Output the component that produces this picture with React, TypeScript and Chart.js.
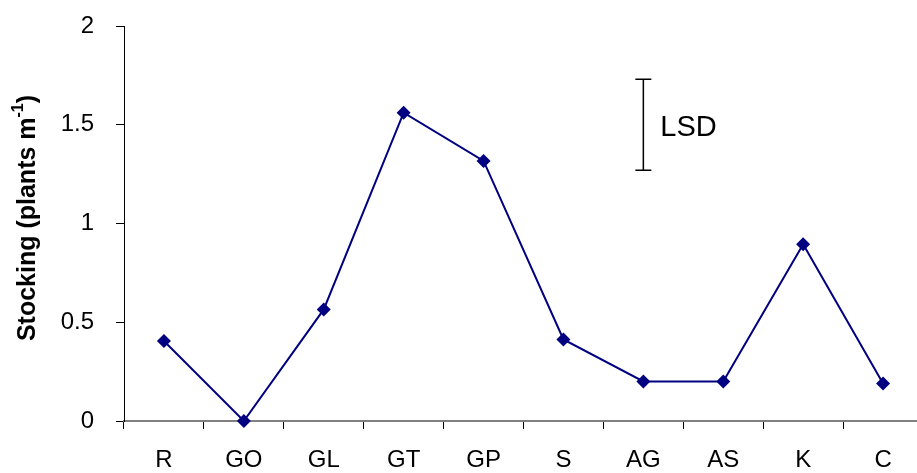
import React, { useEffect, useRef } from "react";
import { Chart, registerables } from "chart.js";

Chart.register(...registerables);

const categories = ["R", "GO", "GL", "GT", "GP", "S", "AG", "AS", "K", "C"];
const stocking = [0.405, 0.0, 0.565, 1.561, 1.317, 0.413, 0.2, 0.2, 0.895, 0.19];
const lsdCategory = "AG";
const lsdCenter = 1.5;
const lsdHalf = 0.231;
const yTicks = [0, 0.5, 1, 1.5, 2];

const FONT = "'Liberation Sans', Arial, sans-serif";

const overlayPlugin = {
  id: "overlay",
  afterDraw(chart: any) {
    const ctx = chart.ctx;
    const xs = chart.scales.x;
    const ys = chart.scales.y;
    const idx = categories.indexOf(lsdCategory);
    const x = xs.getPixelForValue(idx);
    const yTop = ys.getPixelForValue(lsdCenter + lsdHalf);
    const yBot = ys.getPixelForValue(lsdCenter - lsdHalf);
    const yMid = ys.getPixelForValue(lsdCenter);
    ctx.save();
    ctx.strokeStyle = "#000";
    ctx.lineWidth = 1.5;
    ctx.beginPath();
    ctx.moveTo(x, yTop);
    ctx.lineTo(x, yBot);
    ctx.moveTo(x - 8, yTop);
    ctx.lineTo(x + 8, yTop);
    ctx.moveTo(x - 8, yBot);
    ctx.lineTo(x + 8, yBot);
    ctx.stroke();
    ctx.fillStyle = "#000";
    ctx.font = `29px ${FONT}`;
    ctx.textAlign = "left";
    ctx.textBaseline = "middle";
    ctx.fillText("LSD", x + 17, yMid + 3);
    ctx.restore();

    ctx.save();
    ctx.translate(25, 218);
    ctx.rotate(-Math.PI / 2);
    ctx.fillStyle = "#000";
    const main = "Stocking (plants m";
    const sup = "-1";
    const end = ")";
    ctx.font = `bold 25px ${FONT}`;
    const wMain = ctx.measureText(main).width;
    const wEnd = ctx.measureText(end).width;
    ctx.font = `bold 16px ${FONT}`;
    const wSup = ctx.measureText(sup).width;
    const total = wMain + wSup + wEnd;
    let cx = -total / 2;
    ctx.textBaseline = "alphabetic";
    ctx.textAlign = "left";
    ctx.font = `bold 25px ${FONT}`;
    ctx.fillText(main, cx, 10);
    cx += wMain;
    ctx.font = `bold 16px ${FONT}`;
    ctx.fillText(sup, cx, -2);
    cx += wSup;
    ctx.font = `bold 25px ${FONT}`;
    ctx.fillText(end, cx, 10);
    ctx.restore();
  },
};

export default function App() {
  const ref = useRef<HTMLCanvasElement | null>(null);
  useEffect(() => {
    if (!ref.current) return;
    const chart = new Chart(ref.current, {
      type: "line",
      data: {
        labels: categories,
        datasets: [
          {
            data: stocking,
            borderColor: "#000080",
            backgroundColor: "#000080",
            borderWidth: 2,
            pointStyle: "rectRot",
            pointRadius: 7,
            pointBorderWidth: 0,
            tension: 0,
            clip: false,
          },
        ],
      },
      options: {
        animation: false,
        responsive: false,
        maintainAspectRatio: false,
        devicePixelRatio: 1,
        layout: { padding: { top: 26, right: 6, left: 0, bottom: 0 } },
        plugins: { legend: { display: false }, tooltip: { enabled: false } },
        scales: {
          x: {
            type: "category",
            offset: true,
            grid: {
              offset: true,
              drawOnChartArea: false,
              drawTicks: true,
              tickLength: 8,
              color: "#000",
              lineWidth: 1,
            },
            border: { display: true, color: "#808080", width: 2 },
            ticks: {
              color: "#000",
              font: { family: FONT, size: 24 },
              padding: 17,
              maxRotation: 0,
              autoSkip: false,
            },
            afterFit: (s: any) => {
              s.height = 52;
              s.paddingLeft = 0;
              s.paddingRight = 0;
            },
          },
          y: {
            min: 0,
            max: 2,
            afterBuildTicks: (s: any) => {
              s.ticks = yTicks.map((v) => ({ value: v }));
            },
            grid: {
              drawOnChartArea: false,
              drawTicks: true,
              tickLength: 8,
              color: "#000",
              lineWidth: 1,
            },
            border: { display: true, color: "#000", width: 1 },
            ticks: {
              color: "#000",
              font: { family: FONT, size: 24 },
              padding: 22,
              callback: (v: any) => String(v),
            },
            afterFit: (s: any) => {
              s.width = 124;
              s.paddingTop = 0;
              s.paddingBottom = 0;
            },
          },
        },
      },
      plugins: [overlayPlugin],
    });
    return () => chart.destroy();
  }, []);
  return (
    <div
      style={{
        position: "fixed",
        left: 0,
        top: 0,
        width: 917,
        height: 473,
        overflow: "hidden",
        background: "#fff",
      }}
    >
      <canvas ref={ref} width={930} height={473} style={{ display: "block" }} />
    </div>
  );
}
